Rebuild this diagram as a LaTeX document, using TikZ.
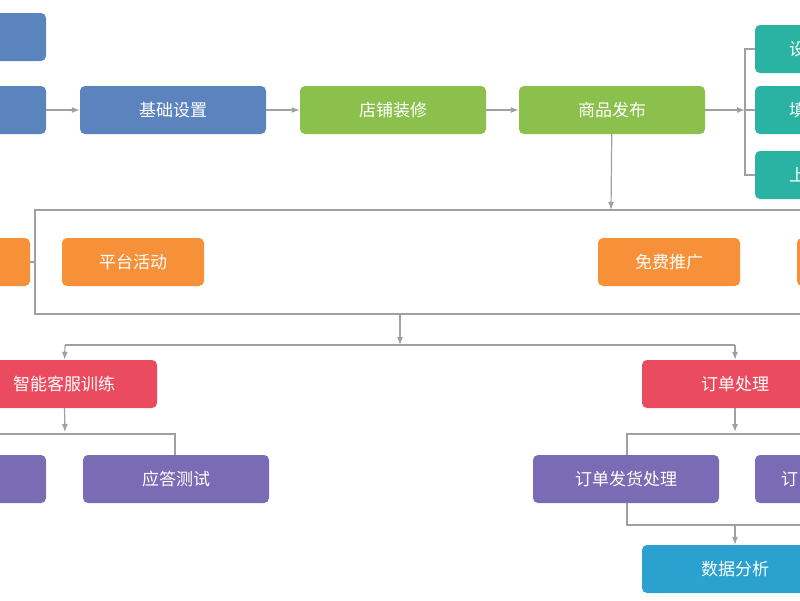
\documentclass[tikz,border=0pt]{standalone}
\usepackage{fontspec}
\setmainfont{Noto Sans CJK SC}
\usetikzlibrary{arrows.meta}
\definecolor{cblue}{HTML}{5B84BE}
\definecolor{cgreen}{HTML}{8BC04C}
\definecolor{cteal}{HTML}{2AB3A2}
\definecolor{corange}{HTML}{F6913A}
\definecolor{cred}{HTML}{EB4B5E}
\definecolor{cpurple}{HTML}{7A6CB4}
\definecolor{ccyan}{HTML}{2AA1CF}
\definecolor{cline}{HTML}{A0A0A0}
\tikzset{
  box/.style={draw=none, rectangle, rounded corners=5pt, text=white, font=\fontsize{17}{19}\selectfont, minimum height=48pt, inner sep=0pt},
  wide/.style={box, minimum width=186pt},
  mid/.style={box, minimum width=142pt},
  cut/.style={text=white, font=\fontsize{17}{19}\selectfont, anchor=west, inner sep=0pt},
  conn/.style={draw=cline, line width=1.2pt},
  arr/.style={conn, -{Latex[length=8pt,width=6pt]}}
}
\begin{document}
\begin{tikzpicture}[x=1pt,y=-1pt]
\useasboundingbox (0,0) rectangle (800,600);
\clip (0,0) rectangle (800,600);
\fill[white] (0,0) rectangle (800,600);
% top row
\node[wide, fill=cblue] (S0) at (-47,37) {};
\node[wide, fill=cblue] (S1) at (-47,110) {};
\node[wide, fill=cblue] (S2) at (173,110) {基础设置};
\node[wide, fill=cgreen] (S3) at (393,110) {店铺装修};
\node[wide, fill=cgreen] (S4) at (612,110) {商品发布};
\node[wide, fill=cteal] (T1) at (848,49) {};
\node[wide, fill=cteal] (T2) at (848,110) {};
\node[wide, fill=cteal] (T3) at (848,175) {};
\node[cut] (T1t) at (789,49) {设};
\node[cut] (T2t) at (789,110) {填};
\node[cut] (T3t) at (789,175) {上};
\draw[arr] (S1) -- (S2);
\draw[arr] (S2) -- (S3);
\draw[arr] (S3) -- (S4);
\coordinate (tb) at (745,110);
\draw[arr] (S4) -- (tb);
\draw[conn] (T1.west) -- (745,49) -- (745,175) -- (T3.west);
\draw[conn] (tb) -- (T2.west);
% promotion row
\node[mid, fill=corange] (P0) at (-41,262) {};
\node[mid, fill=corange] (P1) at (133,262) {平台活动};
\node[mid, fill=corange] (P2) at (669,262) {免费推广};
\node[mid, fill=corange] (P3) at (868,262) {};
\coordinate (pt) at (611,210);
\draw[arr] (S4) -- (pt);
\draw[conn] (820,210) -- (35,210) -- (35,314) -- (820,314);
\draw[conn] (35,262) -- (P0.east);
\coordinate (pb) at (400,314);
\coordinate (pm) at (400,345);
\draw[arr] (pb) -- (pm);
% service row
\node[wide, fill=cred] (R1) at (64,384) {智能客服训练};
\node[wide, fill=cred] (R2) at (735,384) {订单处理};
\draw[conn] (65,345) -- (735,345);
\draw[arr] (65,345) -- (R1);
\draw[arr] (735,345) -- (R2);
% test row
\node[wide, fill=cpurple] (U0) at (-47,479) {};
\node[wide, fill=cpurple] (U1) at (176,479) {应答测试};
\node[wide, fill=cpurple] (U2) at (626,479) {订单发货处理};
\node[wide, fill=cpurple] (U3) at (848,479) {};
\node[cut] (U3t) at (781,479) {订};
\coordinate (r1b) at (65,432);
\draw[arr] (R1) -- (r1b);
\draw[conn] (0,434) -- (175,434) -- (U1.north -| 175,0);
\coordinate (r2b) at (735,432);
\draw[arr] (R2) -- (r2b);
\draw[conn] (820,434) -- (627,434) -- (U2.north -| 627,0);
% data
\node[wide, fill=ccyan] (D1) at (735,569) {数据分析};
\draw[conn] (U2.south -| 627,0) -- (627,525) -- (820,525);
\draw[arr] (735,525) -- (D1);
\end{tikzpicture}
\end{document}
